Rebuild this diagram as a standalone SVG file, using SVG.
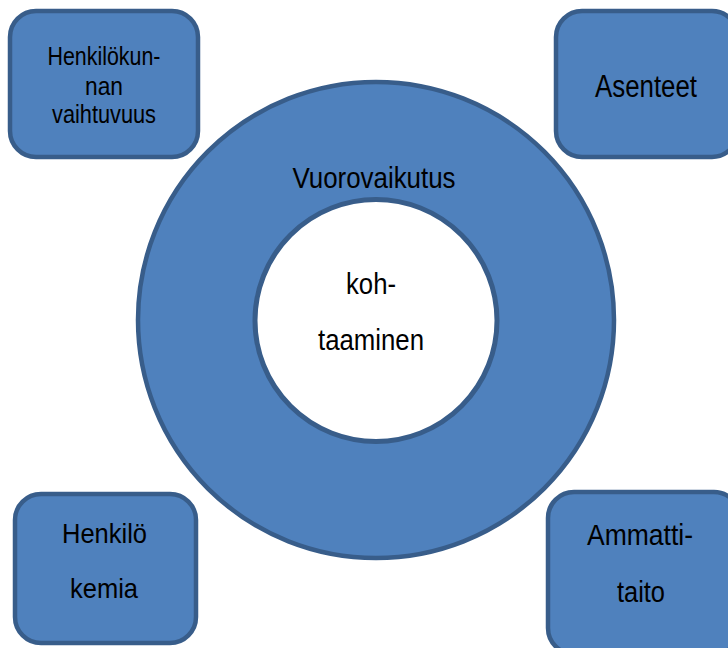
<svg xmlns="http://www.w3.org/2000/svg" width="728" height="648" viewBox="0 0 728 648">
<style>
.shape{fill:#4F81BD;stroke:#385D8A;stroke-width:4.5}
.inner{fill:#FFFFFF;stroke:#385D8A;stroke-width:5}
.t{font-family:"Liberation Sans Narrow","Arial Narrow","Liberation Sans",Arial,sans-serif;fill:#000;text-anchor:middle}
</style>
<rect width="728" height="648" fill="#FFFFFF"/>
<g id="ring">
<circle class="shape" cx="376" cy="320" r="238"/>
<text class="t" x="374" y="188" font-size="29" textLength="163" lengthAdjust="spacingAndGlyphs">Vuorovaikutus</text>
</g>
<g id="core">
<circle class="inner" cx="376" cy="320.5" r="121"/>
<text class="t" x="371" y="294" font-size="29" textLength="50" lengthAdjust="spacingAndGlyphs">koh-</text>
<text class="t" x="371" y="350" font-size="29" textLength="106" lengthAdjust="spacingAndGlyphs">taaminen</text>
</g>
<g id="box-henkilokunnan">
<rect class="shape" x="10" y="11" width="188" height="146" rx="26"/>
<text class="t" x="104" y="65" font-size="26" textLength="113" lengthAdjust="spacingAndGlyphs">Henkilökun-</text>
<text class="t" x="104" y="95" font-size="26" textLength="38" lengthAdjust="spacingAndGlyphs">nan</text>
<text class="t" x="104" y="123" font-size="26" textLength="104" lengthAdjust="spacingAndGlyphs">vaihtuvuus</text>
</g>
<g id="box-asenteet">
<rect class="shape" x="556" y="11" width="182" height="146" rx="26"/>
<text class="t" x="646" y="97" font-size="31" textLength="102" lengthAdjust="spacingAndGlyphs">Asenteet</text>
</g>
<g id="box-henkilokemia">
<rect class="shape" x="15" y="494" width="181" height="149" rx="26"/>
<text class="t" x="104.5" y="543" font-size="28" textLength="85" lengthAdjust="spacingAndGlyphs">Henkilö</text>
<text class="t" x="104" y="598" font-size="28" textLength="68" lengthAdjust="spacingAndGlyphs">kemia</text>
</g>
<g id="box-ammattitaito">
<rect class="shape" x="548" y="492" width="192" height="162" rx="26"/>
<text class="t" x="640" y="545" font-size="30" textLength="106" lengthAdjust="spacingAndGlyphs">Ammatti-</text>
<text class="t" x="641" y="602" font-size="30" textLength="48" lengthAdjust="spacingAndGlyphs">taito</text>
</g>
<g id="connectors"></g>
</svg>
